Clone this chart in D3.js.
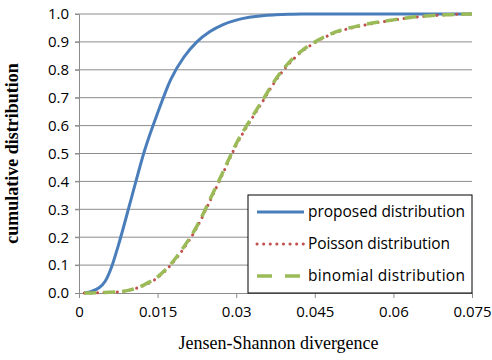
<!DOCTYPE html>
<html>
<head>
<meta charset="utf-8">
<title>cdf</title>
<script src="https://d3js.org/d3.v7.min.js"></script>
<style>
  body { margin: 0; background: #fff; }
  .tick text { font-family: "Open Sans", "Liberation Sans", sans-serif; font-size: 15px; fill: #000; }
</style>
</head>
<body>
<script>
// data
var xs       = [0.001, 0.0025, 0.00375, 0.005, 0.00625, 0.0075, 0.01, 0.0125, 0.015, 0.0175, 0.02, 0.0225, 0.025, 0.0275, 0.03, 0.0325, 0.035, 0.0375, 0.04, 0.0425, 0.045, 0.0475, 0.05, 0.0525, 0.055, 0.0575, 0.06, 0.0625, 0.065, 0.0675, 0.07, 0.0725, 0.075];
var proposed = [0, 0.007, 0.018, 0.042, 0.095, 0.17, 0.34, 0.51, 0.645, 0.765, 0.845, 0.9, 0.937, 0.962, 0.978, 0.988, 0.994, 0.997, 0.999, 1, 1, 1, 1, 1, 1, 1, 1, 1, 1, 1, 1, 1, 1];
var poisson  = [0, 0, 0.001, 0.002, 0.003, 0.004, 0.012, 0.028, 0.055, 0.1, 0.16, 0.235, 0.33, 0.43, 0.53, 0.61, 0.685, 0.76, 0.82, 0.865, 0.897, 0.922, 0.94, 0.952, 0.962, 0.971, 0.978, 0.985, 0.99, 0.994, 0.997, 0.999, 1];
var binomial = [0, 0, 0.001, 0.002, 0.003, 0.004, 0.012, 0.03, 0.058, 0.103, 0.165, 0.24, 0.335, 0.435, 0.535, 0.615, 0.69, 0.765, 0.825, 0.868, 0.9, 0.924, 0.942, 0.954, 0.964, 0.972, 0.979, 0.986, 0.991, 0.995, 0.997, 0.999, 1];
var xTicks = [0, 0.015, 0.03, 0.045, 0.06, 0.075];
var yTicks = [0, 0.1, 0.2, 0.3, 0.4, 0.5, 0.6, 0.7, 0.8, 0.9, 1.0];
var names  = ["proposed distribution", "Poisson distribution", "binomial distribution"];

var W = 492, H = 360;
var margin = {top: 14, right: 20, bottom: 67, left: 79};
var width = W - margin.left - margin.right,
    height = H - margin.top - margin.bottom;

var svg = d3.select("body").append("svg")
    .attr("width", W).attr("height", H)
  .append("g")
    .attr("transform", "translate(" + margin.left + "," + margin.top + ")");

var x = d3.scaleLinear().domain([0, 0.075]).range([0, width]);
var y = d3.scaleLinear().domain([0, 1]).range([height, 0]);

// gridlines
svg.append("g").selectAll("line")
  .data(yTicks.slice(1))
  .enter().append("line")
  .attr("x1", -4).attr("x2", width)
  .attr("y1", function(d){ return y(d); })
  .attr("y2", function(d){ return y(d); })
  .attr("stroke", "#8c8c8c").attr("stroke-width", 1);

var yAxis = svg.append("g")
  .call(d3.axisLeft(y).tickValues(yTicks).tickFormat(d3.format(".1f")).tickSize(4).tickPadding(6));
yAxis.select(".domain").attr("stroke", "#8c8c8c");
yAxis.selectAll(".tick line").attr("stroke", "#8c8c8c");

var xAxis = svg.append("g")
  .attr("transform", "translate(0," + height + ")")
  .call(d3.axisBottom(x).tickValues(xTicks).tickFormat(function(d){ return d === 0 ? "0" : d3.format("")(+d.toFixed(3)); }).tickSize(5).tickPadding(8));
xAxis.select(".domain").attr("stroke", "#8c8c8c");
xAxis.selectAll(".tick line").attr("stroke", "#8c8c8c");

function lineOf(vals) {
  return d3.line()
    .x(function(d, i){ return x(xs[i]); })
    .y(function(d){ return y(d); })
    .curve(d3.curveMonotoneX)(vals);
}

var styles = [
  {color: "#4a7ebb", width: 3, dash: null, cap: "butt"},
  {color: "#c0504d", width: 3, dash: "0.1 6.5", cap: "round"},
  {color: "#9bbb59", width: 3.5, dash: "12 7", cap: "butt"}
];
var series = [proposed, poisson, binomial];

series.forEach(function(s, i) {
  svg.append("path")
    .attr("d", lineOf(s))
    .attr("fill", "none")
    .attr("stroke", styles[i].color)
    .attr("stroke-width", styles[i].width)
    .attr("stroke-linecap", styles[i].cap)
    .attr("stroke-dasharray", styles[i].dash);
});

// legend
var lg = svg.append("g").attr("transform", "translate(" + (248 - margin.left) + "," + (195 - margin.top) + ")");
lg.append("rect").attr("width", 224).attr("height", 98)
  .attr("fill", "#fff").attr("stroke", "#000").attr("stroke-width", 1);
names.forEach(function(n, i) {
  var yy = 17 + i * 32;
  lg.append("line")
    .attr("x1", 9).attr("x2", 56).attr("y1", yy).attr("y2", yy)
    .attr("stroke", styles[i].color)
    .attr("stroke-width", styles[i].width)
    .attr("stroke-linecap", styles[i].cap)
    .attr("stroke-dasharray", i === 2 ? "15 13" : styles[i].dash);
  lg.append("text")
    .attr("x", 60).attr("y", yy + 5)
    .attr("font-family", "Open Sans, Liberation Sans, sans-serif")
    .attr("font-size", "15.5px")
    .attr("textLength", i === 1 ? 142 : 157)
    .text(n);
});

// axis titles
svg.append("text")
  .attr("x", x(0.0375) + 3).attr("y", height + 56)
  .attr("text-anchor", "middle")
  .attr("font-family", "Liberation Serif, serif")
  .attr("font-size", "18px")
  .text("Jensen-Shannon divergence");

svg.append("text")
  .attr("transform", "rotate(-90)")
  .attr("x", -height / 2).attr("y", -61)
  .attr("text-anchor", "middle")
  .attr("font-family", "Liberation Serif, serif")
  .attr("font-weight", "bold")
  .attr("font-size", "18px")
  .text("cumulative distribution");
</script>
</body>
</html>
